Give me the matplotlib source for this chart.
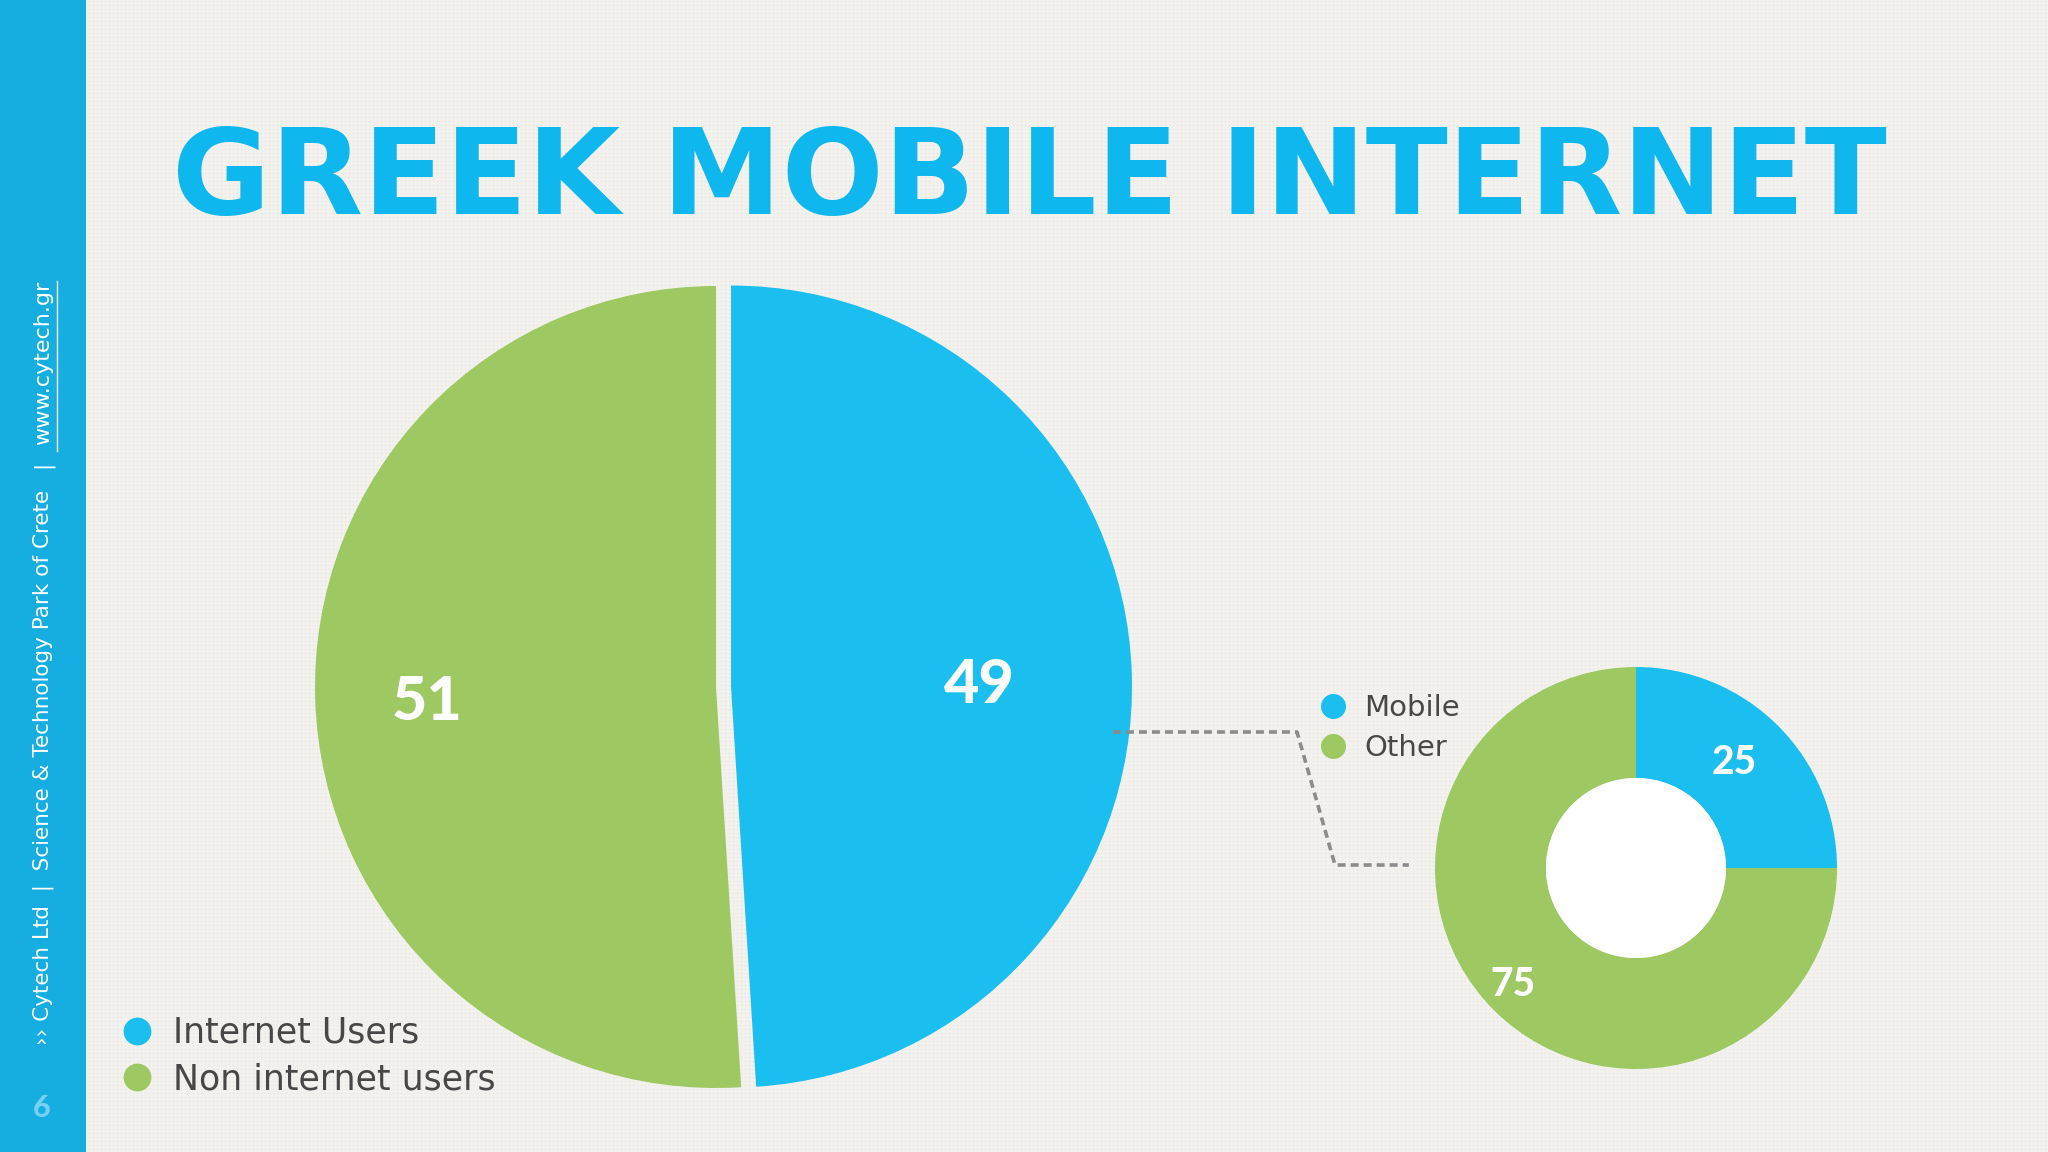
import numpy as np
import matplotlib
matplotlib.use("Agg")
import matplotlib.pyplot as plt
from matplotlib.patches import Rectangle, Circle
from matplotlib.lines import Line2D

# ---------------- data ----------------
title = "GREEK MOBILE INTERNET"
main_labels = ["Internet Users", "Non internet users"]
main_values = [49, 51]
sub_labels = ["Mobile", "Other"]
sub_values = [25, 75]
sidebar_text = "›› Cytech Ltd  |  Science & Technology Park of Crete"
sidebar_sep = "|"
sidebar_url = "www.cytech.gr"
page_number = "6"

# ---------------- style ----------------
BLUE = "#1bbfef"
GREEN = "#9dc862"
TITLE_BLUE = "#0eb7ee"
SIDEBAR = "#16ade1"
BG = "#f2f1ed"
DOT = "#e2e1dc"
TEXT = "#474747"
DASH = "#8c8c8c"
FAM = ["Lato", "DejaVu Sans"]
BODY = ["DejaVu Sans"]

W, H = 2048, 1152


def Y(y):
    return H - y


fig = plt.figure(figsize=(W / 100, H / 100), dpi=100)
fig.patch.set_facecolor(BG)
ax = fig.add_axes([0, 0, 1, 1])

# subtle dotted background texture
base = np.array(matplotlib.colors.to_rgb(BG))
dotc = np.array(matplotlib.colors.to_rgb(DOT))
bg = np.ones((H, W, 3)) * base
bg[1::4, 1::4] = dotc
ax.imshow(bg, extent=(0, W, 0, H), zorder=0, interpolation="nearest", aspect="auto")

# sidebar
ax.add_patch(Rectangle((0, 0), 86, H, fc=SIDEBAR, lw=0, zorder=1))

# ---------------- main pie ----------------
big_c = (716, Y(687))
big_r = 401
wedges, _ = ax.pie(main_values, colors=[BLUE, GREEN], startangle=90,
                   counterclock=False, center=big_c, radius=big_r,
                   explode=[15, 0], wedgeprops=dict(linewidth=0))
for w, v, d in zip(wedges, main_values, [0.62, 0.72]):
    a = np.deg2rad((w.theta1 + w.theta2) / 2)
    cx, cy = w.center
    ax.text(cx + d * w.r * np.cos(a), cy + d * w.r * np.sin(a) - 6, str(v),
            color="white", fontsize=44, fontweight="black", family=FAM,
            ha="center", va="center", zorder=5)

# ---------------- donut ----------------
sm_c = (1636, Y(868))
sm_r = 201
hole_r = 90
wedges2, _ = ax.pie(sub_values, colors=[BLUE, GREEN], startangle=90,
                    counterclock=False, center=sm_c, radius=sm_r,
                    wedgeprops=dict(width=sm_r - hole_r, linewidth=0))
ax.add_patch(Circle(sm_c, hole_r, fc="white", lw=0, zorder=4))
for w, v, d in zip(wedges2, sub_values, [0.72, 0.84]):
    a = np.deg2rad((w.theta1 + w.theta2) / 2)
    cx, cy = w.center
    ax.text(cx + d * w.r * np.cos(a) - 4, cy + d * w.r * np.sin(a) + 3, str(v),
            color="white", fontsize=28, fontweight="black", family=FAM,
            ha="center", va="center", zorder=5)

# dashed connector
x0 = big_c[0] + big_r * 0.99
x3 = sm_c[0] - sm_r * 1.13
ax.plot([x0, 1297, 1335, x3], [Y(732), Y(732), Y(865), Y(865)],
        color=DASH, lw=2.6, dashes=(2.2, 1.4), zorder=6,
        solid_capstyle="butt", dash_capstyle="butt")

ax.set_xlim(0, W)
ax.set_ylim(0, H)
ax.set_aspect("auto")
ax.axis("off")

# ---------------- title ----------------
ax.text(172, Y(214), title, fontsize=86.5, fontweight="bold",
        family=["DejaVu Sans"], color=TITLE_BLUE, ha="left", va="baseline",
        zorder=5)

# ---------------- sidebar text ----------------
ax.text(43, Y(1045), sidebar_text, rotation=90, ha="center", va="bottom",
        color="white", fontsize=15.5, family=BODY, zorder=5)
ax.text(43, Y(464), sidebar_sep, rotation=90, ha="center", va="center",
        color="white", fontsize=15.5, family=BODY, zorder=5)
ax.text(43, Y(281), sidebar_url, rotation=90, ha="center", va="top",
        color="white", fontsize=16, family=BODY, zorder=5)
ax.plot([57, 57], [Y(281), Y(451)], color="white", lw=1.0, zorder=5)
ax.text(42, Y(1108), page_number, color="#76d0f1", fontsize=22,
        fontweight="black", family=FAM, ha="center", va="center", zorder=5)

# ---------------- legends ----------------
fs1 = 25
fs1px = fs1 / 72 * 100
h1 = [Line2D([], [], ls="none", marker="o", ms=20, mfc=c, mec="none")
      for c in [BLUE, GREEN]]
leg1 = ax.legend(h1, main_labels, loc="center left",
                 bbox_to_anchor=((137 - fs1px / 2) / W, Y(1056) / H),
                 frameon=False, prop=dict(family=BODY, size=fs1),
                 labelcolor=TEXT, handlelength=1.0, handletextpad=0.55,
                 labelspacing=0.35, borderpad=0, borderaxespad=0)
ax.add_artist(leg1)

fs2 = 21
fs2px = fs2 / 72 * 100
h2 = [Line2D([], [], ls="none", marker="o", ms=18, mfc=c, mec="none")
      for c in [BLUE, GREEN]]
leg2 = ax.legend(h2, sub_labels, loc="center left",
                 bbox_to_anchor=((1333 - fs2px / 2) / W, Y(728) / H),
                 frameon=False, prop=dict(family=BODY, size=fs2),
                 labelcolor=TEXT, handlelength=1.0, handletextpad=0.57,
                 labelspacing=0.4, borderpad=0, borderaxespad=0)

fig.savefig("out.png", dpi=100, facecolor=BG)
